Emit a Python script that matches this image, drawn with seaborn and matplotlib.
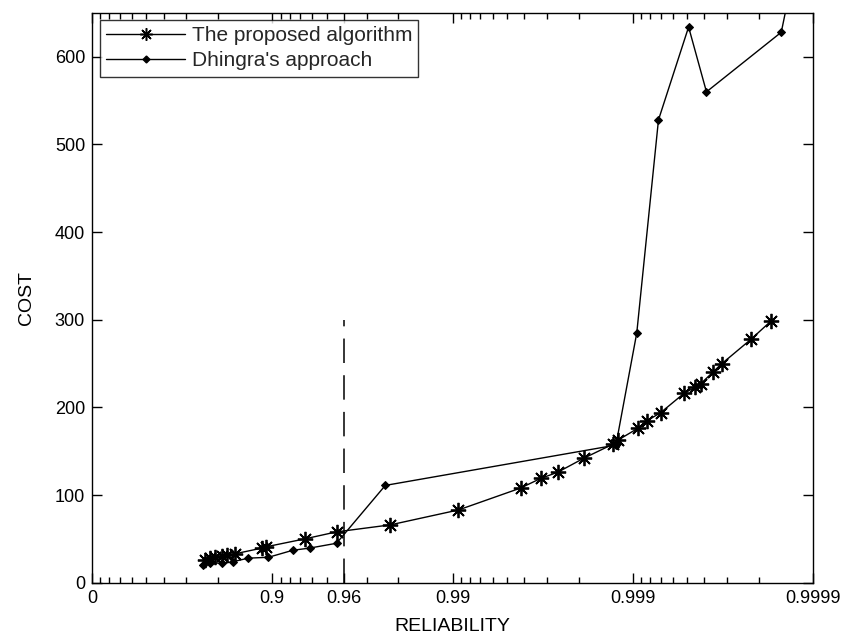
import numpy as np
import pandas as pd
import matplotlib
matplotlib.use("Agg")
import matplotlib.pyplot as plt
from matplotlib.lines import Line2D
import seaborn as sns

# reliability / cost
prop_rel = [0.765, 0.779, 0.793, 0.810, 0.822, 0.839, 0.886, 0.892, 0.934, 0.956,
            0.9779, 0.99073, 0.99581, 0.99676, 0.99739, 0.99813, 0.99871, 0.9988,
            0.99906, 0.99917, 0.9993, 0.99948, 0.99955, 0.99958, 0.99964, 0.99968,
            0.99978, 0.99983]
prop_cost = [26, 28, 29, 30, 31.5, 33, 39.5, 41, 50, 58,
             66, 83, 108, 119, 126, 142, 158, 163,
             176, 185, 194, 216, 223, 227, 240, 250,
             278, 299]

dh_rel = [0.757, 0.779, 0.810, 0.835, 0.864, 0.895, 0.923, 0.938, 0.956, 0.9764,
          0.99876, 0.99905, 0.99928, 0.99951, 0.99961, 0.99985, 0.99987]
dh_cost = [20, 23, 22, 24, 28, 29, 37, 39.5, 45, 111,
           157, 285, 528, 634, 560, 628, 690]

xtick_vals = [0, 0.9, 0.96, 0.99, 0.999, 0.9999]
xtick_labels = ["0", "0.9", "0.96", "0.99", "0.999", "0.9999"]
yticks = [0, 100, 200, 300, 400, 500, 600]

sns.set_style("ticks")
plt.rcParams["font.family"] = ["Liberation Sans", "DejaVu Sans"]


def fwd(r):
    r = np.asarray(r, dtype=float)
    with np.errstate(divide="ignore", invalid="ignore"):
        return -np.log10(np.clip(1 - r, 1e-12, None))


def inv(t):
    return 1 - 10 ** (-np.asarray(t, dtype=float))


fig = plt.figure(figsize=(8.49, 6.39), dpi=100)
ax = fig.add_axes([0.1084, 0.0881, 0.8492, 0.8916])
ax.set_xscale("function", functions=(fwd, inv))

prop = pd.DataFrame({"rel": prop_rel, "cost": prop_cost})
dh = pd.DataFrame({"rel": dh_rel, "cost": dh_cost})

asterisk = (8, 2, 0)
sns.lineplot(data=prop, x="rel", y="cost", ax=ax, sort=False, estimator=None,
             color="black", lw=1, marker=asterisk, markersize=11,
             markeredgewidth=1.3, markeredgecolor="black")
sns.lineplot(data=dh, x="rel", y="cost", ax=ax, sort=False, estimator=None,
             color="black", lw=1, marker="D", markersize=4,
             markeredgecolor="black", markerfacecolor="black")

ax.plot([0.96, 0.96], [0, 300], color="black", lw=1.1, dashes=(16, 8))

ax.set_xlim(0, 0.9999)
ax.set_ylim(0, 650)
ax.set_xticks(xtick_vals)
ax.set_xticklabels(xtick_labels)
minor = [1 - k * 10.0 ** -n for n in range(1, 5) for k in range(1, 10)]
minor = [m for m in minor if 0 < m < 0.9999]
ax.set_xticks(minor, minor=True)
ax.set_yticks(yticks)

ax.set_xlabel("RELIABILITY", fontsize=14, labelpad=8, color="black")
ax.set_ylabel("COST", fontsize=14, labelpad=14, color="black")
ax.tick_params(which="both", direction="in", top=True, right=True,
               labelsize=13, width=1, colors="black", pad=5)
ax.tick_params(which="major", length=7)
ax.tick_params(which="minor", length=4)
for s in ax.spines.values():
    s.set_linewidth(1)
    s.set_color("black")

handles = [
    Line2D([], [], color="black", lw=1, marker=asterisk, markersize=9,
           markeredgewidth=1.1),
    Line2D([], [], color="black", lw=1, marker="D", markersize=3.5),
]
leg = ax.legend(handles, ["The proposed algorithm", "Dhingra's approach"],
                loc="upper left", bbox_to_anchor=(0.011, 0.988), fontsize=15,
                frameon=True, fancybox=False, edgecolor="black",
                handlelength=3.8, handletextpad=0.3, borderpad=0.3,
                labelspacing=0.3, borderaxespad=0)
leg.get_frame().set_linewidth(1)

fig.savefig("out.png", dpi=100)
